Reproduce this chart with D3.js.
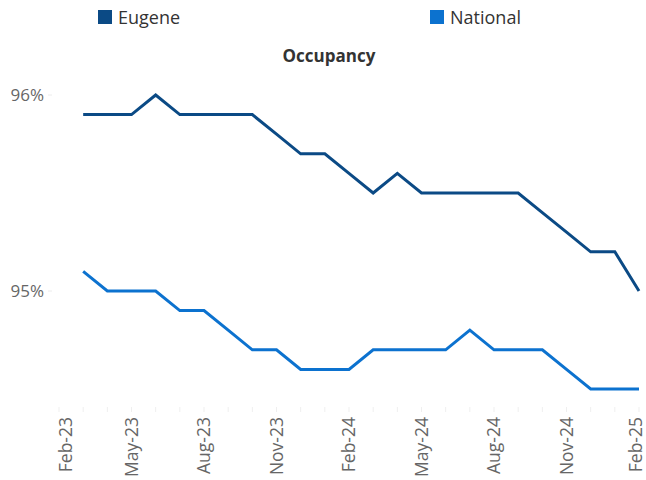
<!DOCTYPE html>
<html>
<head>
<meta charset="utf-8">
<script src="https://cdn.jsdelivr.net/npm/d3@7"></script>
<style>
  body { margin: 0; background: #fff; }
  text { font-family: "Open Sans", "Noto Sans", sans-serif; }
</style>
</head>
<body>
<div id="chart"></div>
<script>
// Month categories (Feb-23 .. Feb-25); data starts Mar-23
const months = ["Feb-23","Mar-23","Apr-23","May-23","Jun-23","Jul-23","Aug-23","Sep-23","Oct-23","Nov-23","Dec-23","Jan-24",
                "Feb-24","Mar-24","Apr-24","May-24","Jun-24","Jul-24","Aug-24","Sep-24","Oct-24","Nov-24","Dec-24","Jan-25","Feb-25"];
const tickLabels = ["Feb-23","May-23","Aug-23","Nov-23","Feb-24","May-24","Aug-24","Nov-24","Feb-25"];
const dataMonths = months.slice(1);

const eugene   = [95.9,95.9,95.9,96.0,95.9,95.9,95.9,95.9,95.8,95.7,95.7,95.6,95.5,95.6,95.5,95.5,95.5,95.5,95.5,95.4,95.3,95.2,95.2,95.0];
const national = [95.1,95.0,95.0,95.0,94.9,94.9,94.8,94.7,94.7,94.6,94.6,94.6,94.7,94.7,94.7,94.7,94.8,94.7,94.7,94.7,94.6,94.5,94.5,94.5];

const series = [
  {name: "Eugene", values: eugene, color: "#0b4a85", legendX: 98},
  {name: "National", values: national, color: "#0c72cf", legendX: 430}
];

const width = 646, height = 480;
const svg = d3.select("#chart").append("svg")
    .attr("width", width)
    .attr("height", height);

const x = d3.scalePoint()
    .domain(months)
    .range([59, 639]);

const y = d3.scaleLinear()
    .domain([95, 96])
    .range([291, 95]);

// Legend
const legend = svg.selectAll(".legend")
    .data(series)
    .enter().append("g")
    .attr("class", "legend")
    .attr("transform", d => `translate(${d.legendX},10)`);

legend.append("rect")
    .attr("width", 14)
    .attr("height", 14)
    .attr("fill", d => d.color);

legend.append("text")
    .attr("x", 20)
    .attr("y", 13.5)
    .attr("font-size", 18)
    .attr("fill", "#333")
    .text(d => d.name);

// Title
svg.append("text")
    .attr("x", 329)
    .attr("y", 62)
    .attr("text-anchor", "middle")
    .attr("font-size", 17)
    .attr("font-weight", "bold")
    .attr("fill", "#333")
    .text("Occupancy");

// Y axis labels
const yTicks = [95, 96];
svg.selectAll(".y-label")
    .data(yTicks)
    .enter().append("text")
    .attr("class", "y-label")
    .attr("x", 44)
    .attr("y", d => y(d))
    .attr("dy", "0.35em")
    .attr("text-anchor", "end")
    .attr("font-size", 17)
    .attr("fill", "#666")
    .text(d => d + "%");

svg.selectAll(".y-tick")
    .data(yTicks)
    .enter().append("line")
    .attr("x1", 48).attr("x2", 52)
    .attr("y1", d => y(d)).attr("y2", d => y(d))
    .attr("stroke", "#ececec");

// X axis ticks (faint) and labels
svg.selectAll(".x-tick")
    .data(months)
    .enter().append("line")
    .attr("x1", d => x(d)).attr("x2", d => x(d))
    .attr("y1", 407).attr("y2", 412)
    .attr("stroke", "#efefef");

const last = tickLabels.length - 1;
svg.selectAll(".x-label")
    .data(tickLabels)
    .enter().append("text")
    .attr("class", "x-label")
    .attr("text-anchor", "end")
    .attr("font-size", 17.5)
    .attr("fill", "#666")
    // first label sits a little right of its tick, last one kept inside the edge
    .attr("transform", (d, i) => `translate(${x(d) + 6 + (i === 0 ? 7 : 0) - (i === last ? 3 : 0)},417) rotate(-90)`)
    .text(d => d);

// Lines
const line = d3.line()
    .x((d, i) => x(dataMonths[i]))
    .y(d => y(d));

svg.selectAll(".series")
    .data(series)
    .enter().append("path")
    .attr("class", "series")
    .attr("d", d => line(d.values))
    .attr("fill", "none")
    .attr("stroke", d => d.color)
    .attr("stroke-width", 3)
    .attr("stroke-linejoin", "miter");
</script>
</body>
</html>
